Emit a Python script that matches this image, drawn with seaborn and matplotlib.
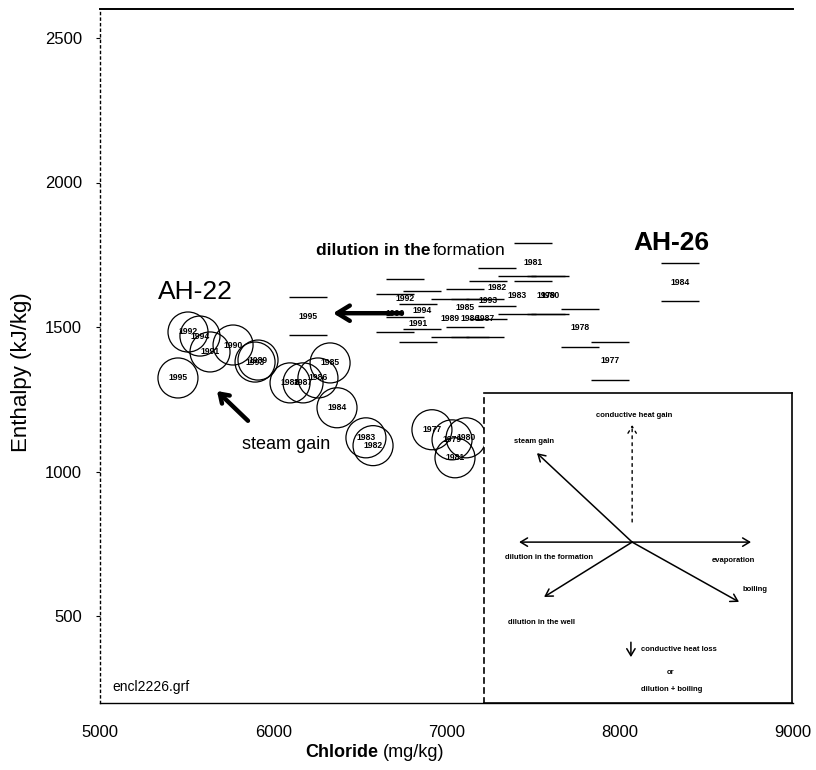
import matplotlib
matplotlib.use("Agg")
import matplotlib.pyplot as plt
import seaborn as sns
import pandas as pd
from matplotlib.path import Path
from matplotlib.markers import MarkerStyle

# ---- data -------------------------------------------------------------
ah22_year = ["1995", "1992", "1994", "1991", "1990", "1993", "1989", "1988", "1987",
             "1986", "1985", "1984", "1983", "1982", "1977", "1979", "1980", "1981"]
ah22_cl = [5450, 5508, 5577, 5635, 5768, 5895, 5912, 6097, 6172,
           6258, 6328, 6368, 6535, 6576, 6916, 7032, 7113, 7049]
ah22_h = [1324, 1483, 1469, 1414, 1438, 1379, 1386, 1307, 1307,
          1324, 1376, 1221, 1117, 1090, 1145, 1110, 1117, 1048]

ah26_year = ["1995", "1992", "1990", "1994", "1991", "1989", "1986", "1987", "1985",
             "1993", "1982", "1983", "1979", "1980", "1981", "1978", "1977", "1984"]
ah26_cl = [6201, 6760, 6703, 6859, 6835, 7020, 7136, 7222, 7107,
           7240, 7292, 7407, 7574, 7597, 7499, 7771, 7944, 8348]
ah26_h = [1538, 1600, 1548, 1559, 1514, 1531, 1531, 1531, 1566,
          1593, 1638, 1610, 1610, 1610, 1724, 1497, 1383, 1655]

x_ticks = [5000, 6000, 7000, 8000, 9000]
y_ticks = [500, 1000, 1500, 2000, 2500]

df22 = pd.DataFrame({"Chloride": ah22_cl, "Enthalpy": ah22_h, "year": ah22_year})
df26 = pd.DataFrame({"Chloride": ah26_cl, "Enthalpy": ah26_h, "year": ah26_year})

# ---- style ------------------------------------------------------------
sns.set_style("white")
plt.rcParams["font.family"] = ["Liberation Sans", "DejaVu Sans"]
plt.rcParams.update({"text.color": "black", "axes.labelcolor": "black",
                     "xtick.color": "black", "ytick.color": "black"})

fig = plt.figure(figsize=(8.16, 7.70), dpi=100)
ax = fig.add_axes([100 / 816, 1 - 703 / 770, 693 / 816, 694 / 770])

# AH-22 circles
sns.scatterplot(data=df22, x="Chloride", y="Enthalpy", ax=ax, marker="o", s=830,
                facecolor="none", edgecolor="black", linewidth=0.9, legend=False, zorder=3)
# AH-26 boxes (top/bottom edges as in the scanned original)
bar_path = Path([(-1, 1), (1, 1), (-1, -1), (1, -1)],
                [Path.MOVETO, Path.LINETO, Path.MOVETO, Path.LINETO])
sns.scatterplot(data=df26, x="Chloride", y="Enthalpy", ax=ax, marker=MarkerStyle(bar_path),
                s=760, facecolor="none", edgecolor="black", linewidth=1.0, legend=False, zorder=3)

for c, h, yr in zip(ah22_cl, ah22_h, ah22_year):
    ax.text(c, h, yr, ha="center", va="center", fontsize=6.2, fontweight="bold", zorder=4)
for c, h, yr in zip(ah26_cl, ah26_h, ah26_year):
    ax.text(c, h, yr, ha="center", va="center", fontsize=6.2, fontweight="bold", zorder=4)

ax.set_xlim(5000, 9000)
ax.set_ylim(200, 2600)
ax.set_xticks(x_ticks)
ax.set_xticklabels([str(v) for v in x_ticks])
ax.set_yticks(y_ticks)
ax.set_yticklabels([str(v) for v in y_ticks])
ax.tick_params(axis="x", length=0, pad=16, labelsize=12)
ax.tick_params(axis="y", length=3, direction="out", pad=10, labelsize=12, left=True)
ax.set_xlabel("")
ax.set_ylabel("")

ax.spines["right"].set_visible(False)
ax.spines["top"].set_linewidth(1.4)
ax.spines["bottom"].set_linewidth(1.0)
ax.spines["left"].set_linestyle((0, (1.5, 2.5)))
ax.spines["left"].set_linewidth(1.0)
for s in ax.spines.values():
    s.set_color("black")

# axis labels
ax.text(0.402, -0.071, "Chloride", transform=ax.transAxes, ha="right", va="center",
        fontsize=13, fontweight="bold")
ax.text(0.408, -0.071, "(mg/kg)", transform=ax.transAxes, ha="left", va="center",
        fontsize=13)
fig.text(22 / 816, 1 - 372 / 770, "Enthalpy (kJ/kg)", rotation=90, ha="center",
         va="center", fontsize=16)

# annotations
ax.text(5548, 1621, "AH-22", ha="center", va="center", fontsize=19)
ax.text(8296, 1790, "AH-26", ha="center", va="center", fontsize=19, fontweight="bold")
ax.text(6905, 1766, "dilution in the", ha="right", va="center", fontsize=12.5,
        fontweight="bold")
ax.text(6922, 1766, "formation", ha="left", va="center", fontsize=12.5)
ax.text(6074, 1093, "steam gain", ha="center", va="center", fontsize=13)
ax.text(5069, 255, "encl2226.grf", ha="left", va="center", fontsize=10)

ax.annotate("", xy=(6345, 1548), xytext=(6743, 1548),
            arrowprops=dict(arrowstyle="->,head_length=0.9,head_width=0.55", lw=3.2,
                            color="black", shrinkA=0, shrinkB=0), zorder=5)
ax.annotate("", xy=(5675, 1279), xytext=(5854, 1176),
            arrowprops=dict(arrowstyle="->,head_length=0.6,head_width=0.4", lw=3.2,
                            color="black", shrinkA=0, shrinkB=0), zorder=5)

# ---- inset diagram ----------------------------------------------------
ins = fig.add_axes([484 / 816, 1 - 703 / 770, 308 / 816, 310 / 770])
ins.set_xlim(0, 1)
ins.set_ylim(0, 1)
ins.set_xticks([])
ins.set_yticks([])
ins.set_facecolor("white")
for s in ins.spines.values():
    s.set_color("black")
    s.set_linewidth(1.2)
ins.spines["left"].set_linestyle((0, (3, 3)))

cx, cy = 0.481, 0.519
arr = dict(arrowstyle="->,head_length=0.5,head_width=0.3", lw=1.1, color="black",
           shrinkA=0, shrinkB=0)
ins.annotate("", xy=(0.114, cy), xytext=(cx, cy), arrowprops=arr)
ins.annotate("", xy=(0.867, cy), xytext=(cx, cy), arrowprops=arr)
ins.annotate("", xy=(0.172, 0.806), xytext=(cx, cy), arrowprops=arr)
ins.annotate("", xy=(0.195, 0.342), xytext=(cx, cy), arrowprops=arr)
ins.annotate("", xy=(0.828, 0.326), xytext=(cx, cy), arrowprops=arr)
ins.annotate("", xy=(cx, 0.897), xytext=(cx, 0.584),
             arrowprops=dict(arrowstyle="->,head_length=0.5,head_width=0.3", lw=1.0,
                             color="black", linestyle=(0, (2, 3)), shrinkA=0, shrinkB=0))
ins.annotate("", xy=(0.477, 0.148), xytext=(0.477, 0.196), arrowprops=arr)

tk = dict(fontsize=5.5, fontweight="bold")
ins.text(0.487, 0.929, "conductive heat gain", ha="center", va="center", **tk)
ins.text(0.162, 0.842, "steam gain", ha="center", va="center", **tk)
ins.text(0.211, 0.468, "dilution in the formation", ha="center", va="center", **tk)
ins.text(0.81, 0.461, "evaporation", ha="center", va="center", **tk)
ins.text(0.838, 0.365, "boiling", ha="left", va="center", **tk)
ins.text(0.188, 0.261, "dilution in the well", ha="center", va="center", **tk)
ins.text(0.51, 0.171, "conductive heat loss", ha="left", va="center", **tk)
ins.text(0.607, 0.10, "or", ha="center", va="center", **tk)
ins.text(0.61, 0.042, "dilution + boiling", ha="center", va="center", **tk)

fig.savefig("out.png", dpi=100)
